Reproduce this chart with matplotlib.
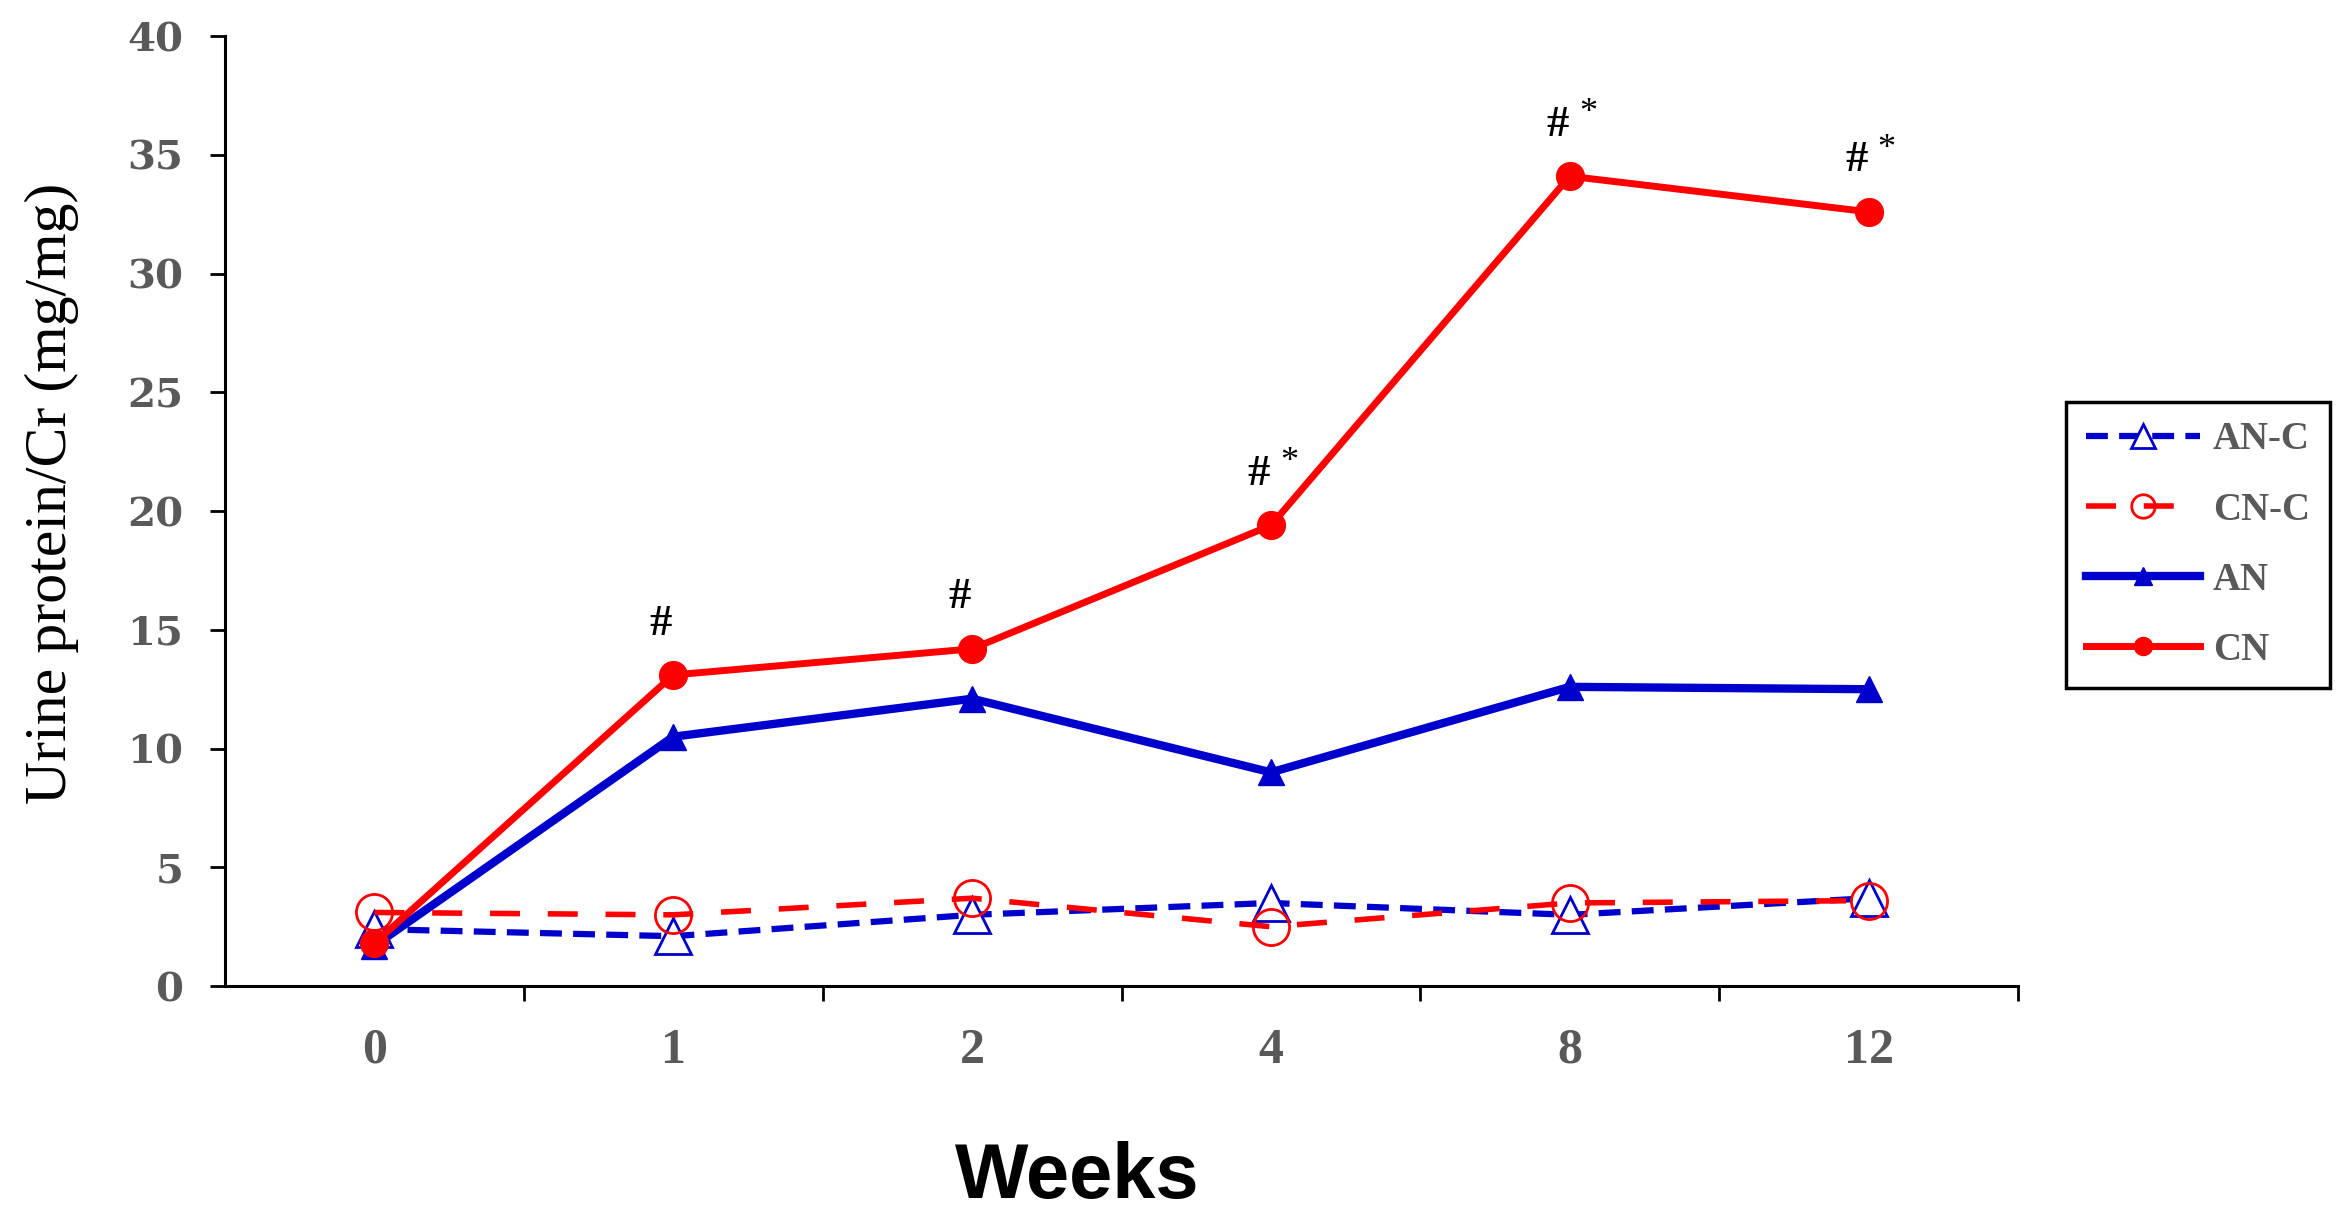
import numpy as np
import matplotlib
matplotlib.use('Agg')
import matplotlib.pyplot as plt

# --- data ---
weeks = ['0', '1', '2', '4', '8', '12']
an_c = [2.4, 2.1, 3.0, 3.5, 3.0, 3.7]
cn_c = [3.1, 3.0, 3.7, 2.5, 3.5, 3.6]
an = [1.7, 10.5, 12.1, 9.0, 12.6, 12.5]
cn = [1.8, 13.1, 14.2, 19.4, 34.1, 32.6]
# significance marks above CN
marks = ['', '#', '#', '#*', '#*', '#*']

BLUE = '#0000cc'
RED = '#ff0000'
GRAY = '#595959'
SERIF = 'Liberation Serif'

fig = plt.figure(figsize=(23.51, 12.28), dpi=100)
ax = fig.add_axes([0.0957, 0.197, 0.7627, 0.7736])

x = np.arange(len(weeks))

ax.plot(x, an_c, color=BLUE, lw=4.5, dashes=(3.5, 1.8), marker='^', ms=26,
        mfc='white', mec=BLUE, mew=2, label='AN-C', clip_on=False, zorder=3)
ax.plot(x, cn_c, color=RED, lw=4, dashes=(5.4, 5.0), marker='o', ms=26,
        mfc='none', mec=RED, mew=2, label='CN-C', clip_on=False, zorder=3)
ax.plot(x, an, color=BLUE, lw=6, marker='^', ms=19, mfc=BLUE, mec=BLUE,
        label='AN', clip_on=False, zorder=4)
ax.plot(x, cn, color=RED, lw=5, marker='o', ms=20, mfc=RED, mec=RED,
        label='CN', clip_on=False, zorder=5)

# # and * annotations
for xi, yi, m in zip(x, cn, marks):
    if '#' in m:
        ax.annotate('#', (xi, yi), xytext=(-9, 37), textcoords='offset points',
                    ha='center', va='center', fontsize=32, fontweight='bold',
                    family=SERIF, color='black')
    if '*' in m:
        ax.annotate('*', (xi, yi), xytext=(13, 45), textcoords='offset points',
                    ha='center', va='center', fontsize=26, family=SERIF, color='black')

# axes styling
ax.set_xlim(-0.5, 5.5)
ax.set_ylim(0, 40)
ax.spines['top'].set_visible(False)
ax.spines['right'].set_visible(False)
ax.spines['left'].set_linewidth(2.2)
ax.spines['bottom'].set_linewidth(2.2)

ax.set_yticks(np.arange(0, 41, 5))
ax.tick_params(axis='y', direction='out', length=11, width=2, pad=19,
               labelsize=29, labelcolor=GRAY)
for lab in ax.get_yticklabels():
    lab.set_fontfamily('DejaVu Serif')
    lab.set_fontweight('bold')

ax.set_xticks(np.arange(0.5, 5.6, 1.0))
ax.set_xticklabels([])
ax.set_xticks(x, minor=True)
ax.set_xticklabels(weeks, minor=True)
ax.tick_params(axis='x', which='major', direction='out', length=11, width=2)
ax.tick_params(axis='x', which='minor', length=0, pad=30, labelsize=36,
               labelcolor=GRAY)
for lab in ax.get_xticklabels(minor=True):
    lab.set_fontfamily(SERIF)
    lab.set_fontweight('bold')

fig.text(0.022, 0.598, 'Urine protein/Cr (mg/mg)', rotation=90, ha='center',
         va='center', fontsize=43, family=SERIF, color='black')
fig.text(0.458, 0.041, 'Weeks', ha='center', va='center', fontsize=56,
         fontweight='bold', family='Liberation Sans', color='black')

leg = fig.legend(loc='upper left', bbox_to_anchor=(0.8788, 0.6726),
                 prop={'family': SERIF, 'weight': 'bold', 'size': 28},
                 handlelength=2.95, handletextpad=0.33, labelspacing=0.85,
                 borderpad=0.5, borderaxespad=0, frameon=True, fancybox=False,
                 framealpha=1, edgecolor='black', markerscale=0.65)
leg.get_frame().set_linewidth(2.5)
for t in leg.get_texts():
    t.set_color(GRAY)

fig.savefig('out.png', dpi=100, facecolor='white')
